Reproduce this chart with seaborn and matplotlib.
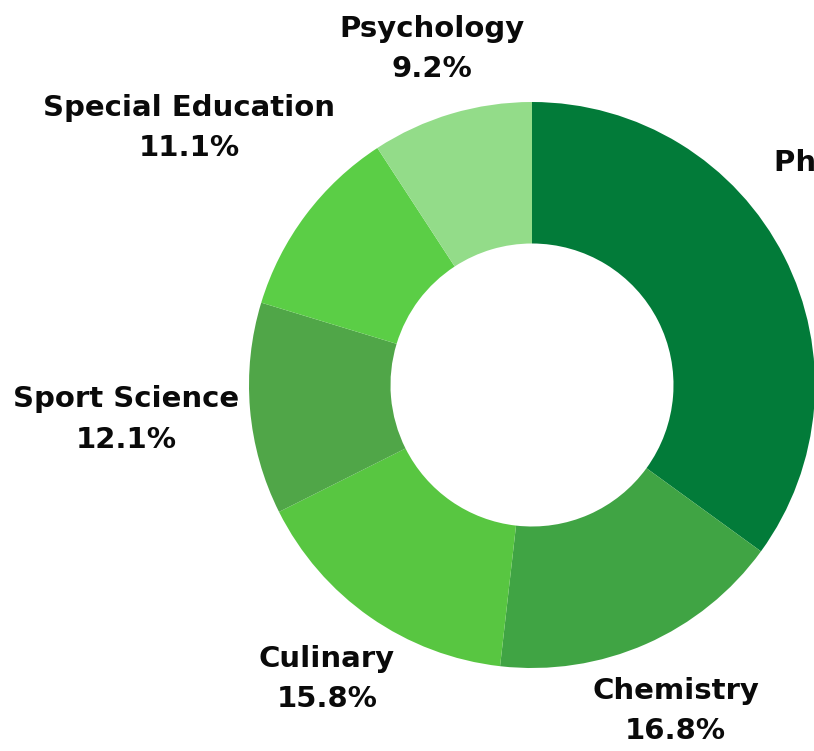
import numpy as np
import matplotlib
matplotlib.use('Agg')
import matplotlib.pyplot as plt
import seaborn as sns

# data, clockwise from 12 o'clock
subjects = ['Physical Education', 'Chemistry', 'Culinary', 'Sport Science',
            'Special Education', 'Psychology']
shares = [35.0, 16.8, 15.8, 12.1, 11.1, 9.2]
colors = ['#027b39', '#40a444', '#58c641', '#50a648', '#5bce46', '#93dc89']

sns.set_theme(style='white')
plt.rcParams['font.family'] = ['DejaVu Sans']

fig = plt.figure(figsize=(8.14, 7.51), dpi=100)
ax = fig.add_axes([0, 0, 1, 1])

wedges, _ = ax.pie(shares, colors=colors, startangle=90, counterclock=False,
                   radius=1, wedgeprops=dict(width=0.5, linewidth=0))

# the donut is cut off on the right side of the picture
px = 283.0
ax.set_xlim(-532 / px, (814 - 532) / px)
ax.set_ylim(-(751 - 385) / px, 385 / px)
ax.set_aspect('auto')
ax.axis('off')

fig.canvas.draw()
renderer = fig.canvas.get_renderer()
inv = ax.transData.inverted()

# labels pushed out until their box clears the ring
r0 = 1.03
for w, name, val in zip(wedges, subjects, shares):
    ang = np.deg2rad((w.theta1 + w.theta2) / 2)
    c, s = np.cos(ang), np.sin(ang)
    t = ax.text(0, 0, f'{name}\n{val:.1f}%', ha='center', va='center',
                fontsize=21, fontweight='bold', linespacing=1.55, color='#0a0a0a')
    bb = t.get_window_extent(renderer).transformed(inv)
    hw, hh = bb.width / 2, bb.height / 2
    d = r0 + hw * abs(c) + hh * abs(s)
    t.set_position((d * c, d * s))

fig.savefig('out.png', dpi=100, facecolor='white')
